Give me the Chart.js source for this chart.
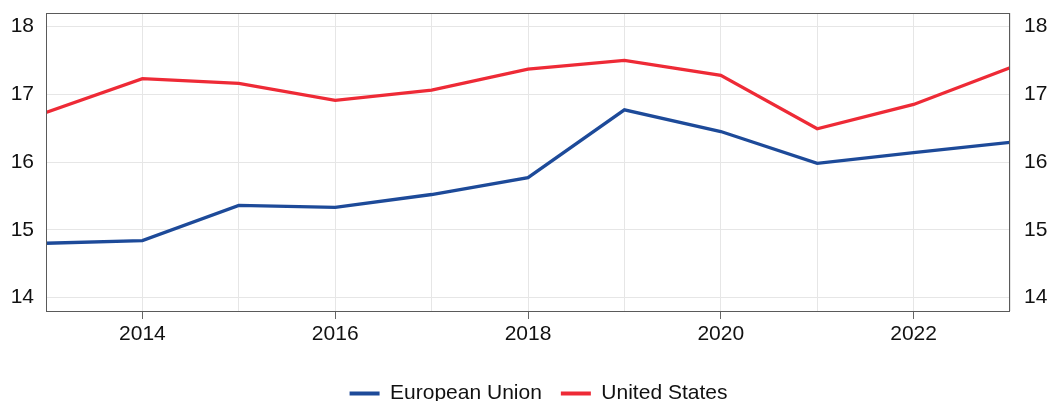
<!DOCTYPE html>
<html>
<head>
<meta charset="utf-8">
<script src="https://cdn.jsdelivr.net/npm/chart.js@4/dist/chart.umd.min.js"></script>
<style>
  html, body { margin: 0; padding: 0; background: #fff; }
</style>
</head>
<body>
<canvas id="myChart" width="1049" height="401"></canvas>
<script>
const years = [2013, 2014, 2015, 2016, 2017, 2018, 2019, 2020, 2021, 2022, 2023];
const euValues = [14.80, 14.84, 15.36, 15.33, 15.52, 15.77, 16.77, 16.45, 15.98, 16.14, 16.29];
const usValues = [16.73, 17.23, 17.16, 16.91, 17.06, 17.37, 17.50, 17.28, 16.49, 16.85, 17.39];
const yTicks = [14, 15, 16, 17, 18];

const toPoints = (vals) => vals.map((v, i) => ({ x: years[i], y: v }));

// draws the box round the plot area
const frame = {
  id: 'frame',
  afterDraw(chart) {
    const { ctx, chartArea: a } = chart;
    ctx.save();
    ctx.strokeStyle = '#5a5a5a';
    ctx.lineWidth = 1;
    ctx.strokeRect(a.left + 0.5, a.top + 0.5, a.right - a.left - 1, a.bottom - a.top);
    ctx.restore();
  },
};

// push the legend down and a little to the right
const legendShift = {
  id: 'legendShift',
  afterLayout(chart) {
    chart.legend.top += 13;
    chart.legend.bottom += 13;
    chart.legend.left += 14;
    chart.legend.right += 14;
  },
};

const font = { family: 'Arial, "Liberation Sans", sans-serif', size: 21 };

const yAxis = (position, pad, width) => ({
  type: 'linear',
  position,
  min: 13.8,
  max: 18.2,
  afterBuildTicks: (s) => { s.ticks = yTicks.map((v) => ({ value: v })); },
  afterFit: (s) => {
    s.width = width;
    s.paddingTop = 0;
    s.paddingBottom = 0;
  },
  grid: { display: position === 'left', color: '#e6e6e6', drawTicks: false },
  border: { display: false },
  ticks: { color: '#111', font, padding: pad },
});

new Chart(document.getElementById('myChart'), {
  type: 'line',
  data: {
    datasets: [
      {
        label: 'European Union',
        data: toPoints(euValues),
        borderColor: '#1d4a99',
        backgroundColor: '#1d4a99',
        borderWidth: 3.3,
        pointRadius: 0,
        yAxisID: 'y',
      },
      {
        label: 'United States',
        data: toPoints(usValues),
        borderColor: '#ee2a36',
        backgroundColor: '#ee2a36',
        borderWidth: 3.3,
        pointRadius: 0,
        yAxisID: 'y',
      },
    ],
  },
  options: {
    responsive: false,
    animation: false,
    layout: { padding: { top: 13, left: 0, right: 0, bottom: 0 } },
    scales: {
      x: {
        type: 'linear',
        min: 2013,
        max: 2023,
        afterBuildTicks: (s) => { s.ticks = years.map((v) => ({ value: v })); },
        afterFit: (s) => {
          s.height = 40;
          s.paddingLeft = 0;
          s.paddingRight = 0;
        },
        grid: {
          color: '#e6e6e6',
          tickLength: 8,
          tickColor: (c) => (c.tick && c.tick.value % 2 === 0 ? '#666' : 'rgba(0,0,0,0)'),
        },
        border: { display: false },
        ticks: {
          color: '#111',
          font,
          padding: 3,
          maxRotation: 0,
          autoSkip: false,
          callback: (v) => (v % 2 === 0 ? String(v) : ''),
        },
      },
      y: yAxis('left', 12, 46),
      y2: yAxis('right', 14, 39),
    },
    plugins: {
      legend: {
        position: 'bottom',
        labels: {
          color: '#111',
          font,
          boxWidth: 30,
          boxHeight: 4,
          padding: 19,
          generateLabels: (chart) =>
            Chart.defaults.plugins.legend.labels
              .generateLabels(chart)
              .map((l) => ({ ...l, lineWidth: 0 })),
        },
      },
      tooltip: { enabled: false },
    },
  },
  plugins: [frame, legendShift],
});
</script>
</body>
</html>
